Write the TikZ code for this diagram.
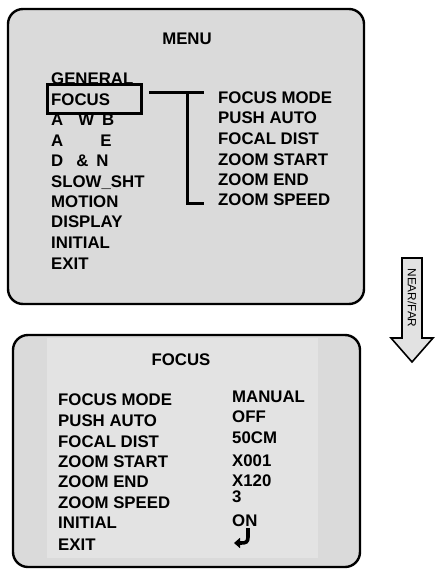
\documentclass[tikz,border=0pt]{standalone}
\usepackage{fontspec}
\setmainfont{Liberation Sans}
\usetikzlibrary{arrows.meta}
\definecolor{boxgray}{HTML}{DADADA}
\definecolor{innergray}{HTML}{E3E3E3}
\definecolor{arrowgray}{HTML}{E2E2E2}
\tikzset{
  txt/.style={font=\fontsize{16.8}{20}\selectfont\bfseries, anchor=base west, inner sep=0pt},
  ttl/.style={font=\fontsize{16.8}{20}\selectfont\bfseries, anchor=base, inner sep=0pt},
  panel/.style={draw=black, line width=2.4pt, fill=boxgray, rounded corners=15pt},
  conn/.style={draw=black, line width=3pt},
  selbox/.style={draw=black, line width=3pt, inner sep=0pt, minimum width=94.3pt, minimum height=29pt, anchor=north west},
}
\begin{document}
\begin{tikzpicture}[x=1pt,y=-1pt]
\useasboundingbox (0,0) rectangle (439,570);
% panels
\draw[panel] (8,9) rectangle (364,304);
\draw[panel] (13,335) rectangle (360,567);
\fill[innergray] (47,338) rectangle (318,558);
% top menu
\node[ttl] (menu) at (187,44) {MENU};
\node[txt] (m1) at (51,84.3) {GENERAL};
\node[txt] (m2) at (51,105) {FOCUS};
\node[txt] (m3) at (51,125.3) {A\hspace{15pt}W\hspace{8pt}B};
\node[txt] (m4) at (51,146) {A\hspace{37pt}E};
\node[txt] (m5) at (51,166.7) {D\hspace{13pt}\&\hspace{8pt}N};
\node[txt] (m6) at (51,187) {SLOW\_SHT};
\node[txt] (m7) at (51,207) {MOTION};
\node[txt] (m8) at (51,227.7) {DISPLAY};
\node[txt] (m9) at (51,248) {INITIAL};
\node[txt] (m10) at (51,269.3) {EXIT};
\node[selbox] (sel) at (45.7,83) {};
% sub items
\node[txt] (s1) at (218,103.3) {FOCUS MODE};
\node[txt] (s2) at (218,123.7) {PUSH AUTO};
\node[txt] (s3) at (218,144.3) {FOCAL DIST};
\node[txt] (s4) at (218,165) {ZOOM START};
\node[txt] (s5) at (218,185.7) {ZOOM END};
\node[txt] (s6) at (218,205.3) {ZOOM SPEED};
% bracket connector
\coordinate (h1) at (149,92.7);
\coordinate (h2) at (204,92.7);
\coordinate (v1) at (187,92.7);
\coordinate (f2) at (204,203);
\draw[conn] (h1) -- (h2);
\draw[conn] (v1) |- (f2);
% near/far arrow
\draw[fill=arrowgray, line width=1.6pt, line join=miter]
  (402,258) -- (422,258) -- (422,338) -- (433,338) -- (412,362) -- (391,338) -- (402,338) -- cycle;
\node[rotate=-90, font=\fontsize{11.8}{12}\selectfont, inner sep=0pt] (nf) at (412,298) {NEAR/FAR};
% bottom panel
\node[ttl] (ftitle) at (181,365.3) {FOCUS};
\node[txt] (b1) at (58,405.3) {FOCUS MODE};
\node[txt] (b2) at (58,426.7) {PUSH AUTO};
\node[txt] (b3) at (58,447.7) {FOCAL DIST};
\node[txt] (b4) at (58,467.7) {ZOOM START};
\node[txt] (b5) at (58,487.7) {ZOOM END};
\node[txt] (b6) at (58,508.7) {ZOOM SPEED};
\node[txt] (b7) at (58,528.7) {INITIAL};
\node[txt] (b8) at (58,550.3) {EXIT};
\node[txt] (v1n) at (232,402.7) {MANUAL};
\node[txt] (v2n) at (232,422.7) {OFF};
\node[txt] (v3n) at (232,443.3) {50CM};
\node[txt] (v4n) at (232,466.7) {X001};
\node[txt] (v5n) at (232,486) {X120};
\node[txt] (v6n) at (232,502.7) {3};
\node[txt] (v7n) at (232,526) {ON};
% return symbol
\coordinate (r1) at (248,528);
\coordinate (r2) at (234,543);
\draw[line width=3.6pt, -{Triangle[length=6pt,width=10pt]}]
  (r1) -- (248,537) .. controls (248,542) and (246,543) .. (241,543) -- (r2);
\end{tikzpicture}
\end{document}
